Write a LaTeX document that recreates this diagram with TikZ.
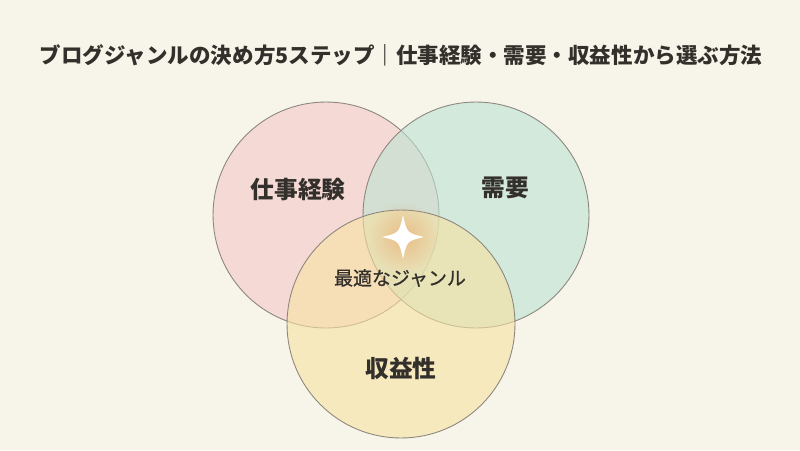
\documentclass[tikz,border=0pt]{standalone}
\usepackage{fontspec}
\setmainfont{Noto Sans CJK JP}
\newfontfamily\jpmedium{Noto Sans CJK JP}[FakeBold=0.8]
\usetikzlibrary{fadings,calc}

\definecolor{bgcream}{RGB}{247,244,234}
\definecolor{pinkset}{RGB}{244,199,200}
\definecolor{greenset}{RGB}{187,227,209}
\definecolor{yellowset}{RGB}{247,226,162}
\definecolor{rimgray}{RGB}{140,134,126}
\definecolor{inkdark}{RGB}{51,48,44}
\definecolor{glowamber}{RGB}{236,170,110}
\tikzfading[name=glowfade, inner color=transparent!35, outer color=transparent!100]

\begin{document}
\begin{tikzpicture}[x=0.02cm,y=-0.02cm,
  setcircle/.style={draw=rimgray, line width=0.5pt, fill opacity=0.6},
  setlabel/.style={font=\bfseries\fontsize{13.5}{16}\selectfont, text=inkdark}]
% Background
\fill[bgcream] (0,0) rectangle (800,450);
\useasboundingbox (0,0) rectangle (800,450);

% Title
\node[font=\bfseries\fontsize{12.25}{15}\selectfont, text=inkdark] (title) at (401,55)
  {ブログジャンルの決め方5ステップ｜仕事経験・需要・収益性から選ぶ方法};

% Three sets
\filldraw[setcircle, fill=pinkset] (326,215) circle (2.26cm);
\filldraw[setcircle, fill=greenset] (476,215) circle (2.26cm);
\filldraw[setcircle, fill=yellowset] (401,324) circle (2.28cm);

% Sparkle in the middle
\coordinate (spark) at (403,237);
\fill[glowamber, path fading=glowfade] (spark) circle (0.7cm);
\fill[white] ($(spark)+(0,-22)$) .. controls ($(spark)+(4,-4)$) .. ($(spark)+(21,0)$)
  .. controls ($(spark)+(4,4)$) .. ($(spark)+(0,22)$)
  .. controls ($(spark)+(-4,4)$) .. ($(spark)+(-21,0)$)
  .. controls ($(spark)+(-4,-4)$) .. cycle;

% Labels
\node[setlabel] (work) at (298,190) {仕事経験};
\node[setlabel] (demand) at (505,188) {需要};
\node[setlabel] (revenue) at (401,368) {収益性};
\node[font=\jpmedium\fontsize{10.8}{13}\selectfont, text=inkdark] (best) at (400,278) {最適なジャンル};

\end{tikzpicture}
\end{document}
